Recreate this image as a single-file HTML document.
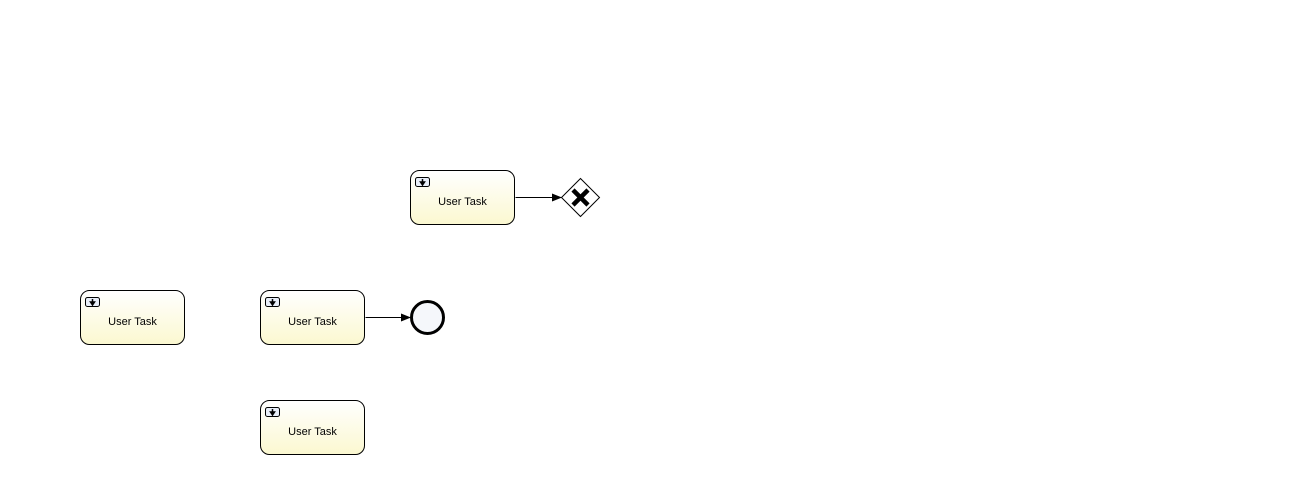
<!DOCTYPE html>
<html><head><meta charset="utf-8"><style>
html,body{margin:0;padding:0;background:#fff;width:1301px;height:492px;overflow:hidden}
svg{display:block}
text{font-family:"Liberation Sans",sans-serif;font-size:11px;fill:#000}
</style></head><body>
<svg width="1301" height="492" viewBox="0 0 1301 492">
<defs>
<linearGradient id="tg" x1="0" y1="0" x2="0" y2="1">
<stop offset="0" stop-color="#ffffff"/><stop offset="1" stop-color="#fbf8d0"/>
</linearGradient>
<marker id="ah" markerWidth="10" markerHeight="8" refX="9" refY="4" orient="auto" markerUnits="userSpaceOnUse">
<path d="M0,0 L10,4 L0,8 Z" fill="#000"/>
</marker>
</defs>
<g id="tasks"></g>
<path d="M515.5,197.5 L561,197.5" stroke="#000" fill="none" marker-end="url(#ah)"/>
<path d="M365.5,317.5 L410,317.5" stroke="#000" fill="none" marker-end="url(#ah)"/>
<g>
<path d="M580.5,178.5 L599.5,197.5 L580.5,216.5 L561.5,197.5 Z" fill="#fff" stroke="#000"/>
<path d="M573,190 L588,205 M588,190 L573,205" stroke="#000" stroke-width="4.5"/>
</g>
<circle cx="427.5" cy="317.5" r="16" fill="#f5f7fb" stroke="#000" stroke-width="3"/>
</svg>
<script>
const taskX=[410,80,260,260];
const taskY=[170,290,290,400];
const g=document.getElementById('tasks');
const NS='http://www.w3.org/2000/svg';
taskX.forEach((x,i)=>{
  const y=taskY[i];
  const grp=document.createElementNS(NS,'g');
  
  
  const r=document.createElementNS(NS,'rect');
  r.setAttribute('x',x+0.5);r.setAttribute('y',y+0.5);r.setAttribute('width',104);r.setAttribute('height',54);
  r.setAttribute('rx',9);r.setAttribute('fill','url(#tg)');r.setAttribute('stroke','#000');
  grp.appendChild(r);
  const ic=document.createElementNS(NS,'rect');
  ic.setAttribute('x',x+5.5);ic.setAttribute('y',y+7.5);ic.setAttribute('width',14);ic.setAttribute('height',9);
  ic.setAttribute('rx',2);ic.setAttribute('fill','#e8eef8');ic.setAttribute('stroke','#000');
  
  
  grp.appendChild(ic);
  const p=document.createElementNS(NS,'path');
  p.setAttribute('d',`M${x+12.5},${y+9} L${x+12.5},${y+13} M${x+10.5},${y+12} L${x+12.5},${y+15} L${x+14.5},${y+12} Z`);
  p.setAttribute('stroke','#000');p.setAttribute('fill','#000');p.setAttribute('stroke-width','1.5');
  grp.appendChild(p);
  const t=document.createElementNS(NS,'text');
  t.setAttribute('x',x+52.5);t.setAttribute('y',y+35);t.setAttribute('text-anchor','middle');
  t.textContent='User Task';
  
  
  grp.appendChild(t);
  g.appendChild(grp);
});
</script>
</body></html>
